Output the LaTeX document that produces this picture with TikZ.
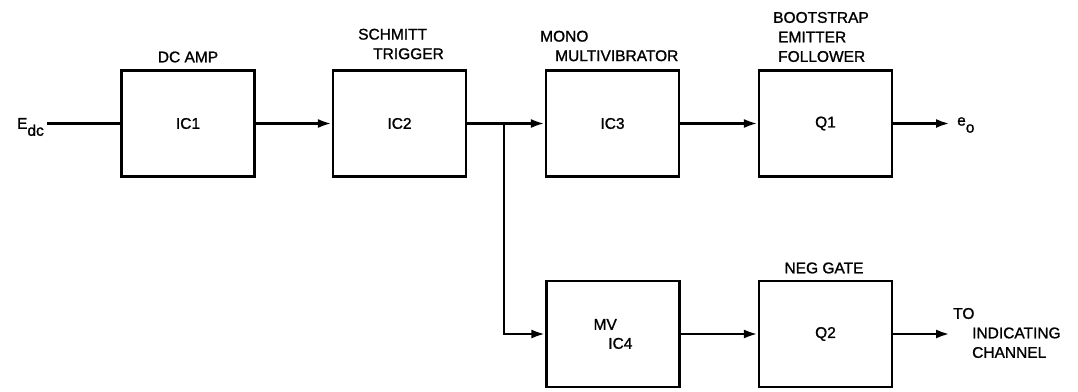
\documentclass[tikz,border=0pt]{standalone}
\usepackage{fontspec}
\setmainfont{Liberation Sans}[UprightFeatures={FakeBold=1.2}]
\usetikzlibrary{arrows.meta}

\begin{document}
\begin{tikzpicture}[x=1pt,y=-1pt,
        block/.style={draw, line width=2.2pt, minimum width=133pt, minimum height=106pt,
            inner sep=0pt, align=left, font=\fontsize{15.5}{19}\selectfont},
        wire/.style={line width=2.8pt},
        feed/.style={wire, -{Latex[length=14pt,width=9pt]}},
        tag/.style={inner sep=0pt, align=left, font=\fontsize{15.5}{19.5}\selectfont}]
        % Frame
        \useasboundingbox (0,0) rectangle (1078,391);

        % Upper chain
        \node[block] (ic1) at (188,123.5) {IC1};
        \node[block] (ic2) at (399.5,123.5) {IC2};
        \node[block] (ic3) at (612.5,123.5) {IC3};
        \node[block] (q1) at (825.5,123.5) {Q1};

        % Lower chain
        \node[block] (mv) at (613,334) {MV\\\hspace*{0.95em}IC4};
        \node[block] (q2) at (825.5,334) {Q2};

        % Names over the blocks
        \node[tag] (ampname) at (188,57) {DC AMP};
        \node[tag, anchor=west] (trigname) at (358,44) {SCHMITT\\\hspace*{15pt}TRIGGER};
        \node[tag, anchor=west] (mononame) at (540,46) {MONO\\\hspace*{15pt}MULTIVIBRATOR};
        \node[tag, anchor=west] (bootname) at (773,37) {BOOTSTRAP\\\hspace*{5pt}EMITTER\\\hspace*{5pt}FOLLOWER};
        \node[tag] (gatename) at (824,268) {NEG GATE};

        % Terminals
        \node[tag, anchor=east] (edc) at (44,127) {E\raisebox{-7pt}{dc}};
        \node[tag, anchor=west] (eo) at (957,125) {e\raisebox{-7pt}{o}};
        \node[tag, anchor=west] (chan) at (953,333) {TO\\\hspace*{19pt}INDICATING\\\hspace*{19pt}CHANNEL};
        \coordinate (in) at (47,123.5);
        \coordinate (out) at (950,123.5);
        \coordinate (split) at (504,123.5);
        \coordinate (chout) at (950,334);

        % Connectors
        \draw[wire] (in) -- (ic1.west);
        \draw[feed] (ic1.east) -- (ic2.west);
        \draw[feed] (ic2.east) -- (ic3.west);
        \draw[feed] (ic3.east) -- (q1.west);
        \draw[feed] (q1.east) -- (out);
        \draw[feed] (split) |- (mv.west);
        \draw[feed] (mv.east) -- (q2.west);
        \draw[feed] (q2.east) -- (chout);
    \end{tikzpicture}
\end{document}
